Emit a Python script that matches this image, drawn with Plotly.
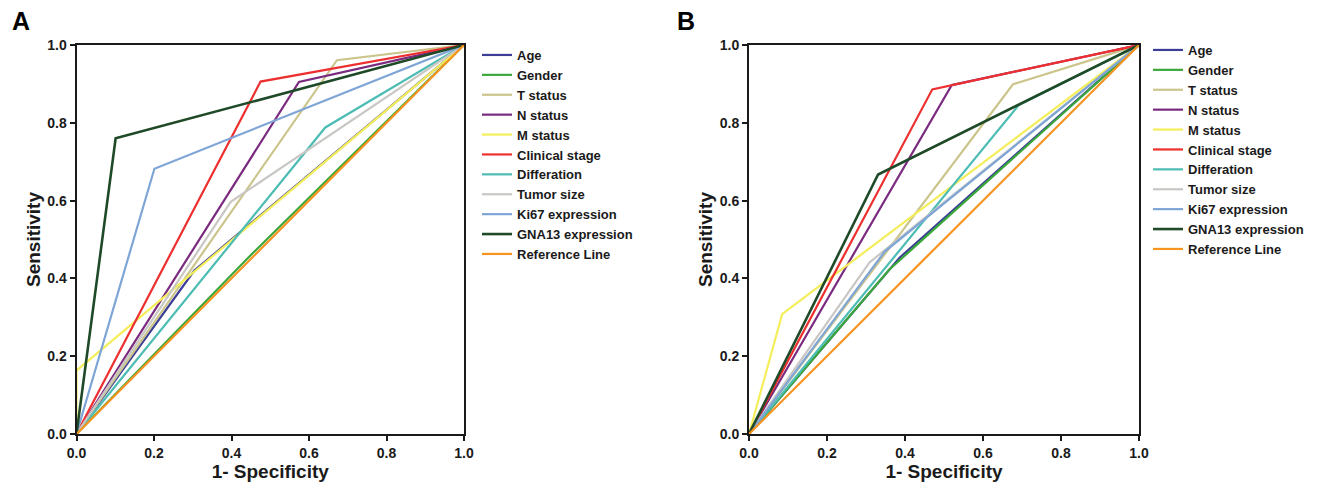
import plotly.graph_objects as go

W, H = 1339, 485

series_names = ["Age", "Gender", "T status", "N status", "M status", "Clinical stage",
                "Differation", "Tumor size", "Ki67 expression", "GNA13 expression", "Reference Line"]
series_colors = ["#3b3d96", "#3aa83a", "#cbc58c", "#7a2b7f", "#f4ee5a", "#ee2f2f",
                 "#4dbdb4", "#c9c7c4", "#7ea5d6", "#1f4a28", "#f7931e"]

# Panel A: 1-specificity (x) and sensitivity (y) per series
panelA_fpr = [[0, 0.304, 1], [0, 0.45, 1], [0, 0.672, 1], [0, 0.574, 1], [0, 0, 1], [0, 0.475, 1],
              [0, 0.642, 1], [0, 0.398, 1], [0, 0.201, 1], [0, 0.101, 1], [0, 1]]
panelA_tpr = [[0, 0.42, 1], [0, 0.46, 1], [0, 0.961, 1], [0, 0.905, 1], [0, 0.163, 1], [0, 0.906, 1],
              [0, 0.788, 1], [0, 0.597, 1], [0, 0.682, 1], [0, 0.76, 1], [0, 1]]

# Panel B
panelB_fpr = [[0, 0.386, 1], [0, 0.36, 1], [0, 0.677, 1], [0, 0.52, 1], [0, 0.085, 1], [0, 0.47, 1],
              [0, 0.692, 1], [0, 0.309, 1], [0, 0.348, 1], [0, 0.331, 1], [0, 1]]
panelB_tpr = [[0, 0.453, 1], [0, 0.423, 1], [0, 0.899, 1], [0, 0.897, 1], [0, 0.308, 1], [0, 0.886, 1],
              [0, 0.846, 1], [0, 0.441, 1], [0, 0.469, 1], [0, 0.667, 1], [0, 1]]

tick_vals = [0, 0.2, 0.4, 0.6, 0.8, 1.0]
tick_text = ["0.0", "0.2", "0.4", "0.6", "0.8", "1.0"]


def px_x(p):
    return p / W


def px_y(p):
    return 1 - p / H


FONT = "Liberation Sans, Arial, sans-serif"
fig = go.Figure()

for i, name in enumerate(series_names):
    fig.add_trace(go.Scatter(x=panelA_fpr[i], y=panelA_tpr[i], mode="lines", name=name,
                             line=dict(color=series_colors[i], width=2.6 if i == 9 else 2.2),
                             xaxis="x", yaxis="y", legend="legend", hoverinfo="skip"))
for i, name in enumerate(series_names):
    fig.add_trace(go.Scatter(x=panelB_fpr[i], y=panelB_tpr[i], mode="lines", name=name,
                             line=dict(color=series_colors[i], width=2.6 if i == 9 else 2.2),
                             xaxis="x2", yaxis="y2", legend="legend2", hoverinfo="skip"))

axis_common = dict(range=[0, 1], tickvals=tick_vals, ticktext=tick_text, showgrid=False, zeroline=False,
                   showline=True, linecolor="#1a1a1a", linewidth=2, mirror=True, automargin=False,
                   ticks="outside", ticklen=5, tickwidth=1.5, tickcolor="#1a1a1a",
                   tickfont=dict(family=FONT, size=14, color="#1a1a1a", weight="bold"))

xt = dict(text="1- Specificity", font=dict(family=FONT, size=19, color="#1a1a1a", weight="bold"), standoff=0)
yt = dict(text="Sensitivity", font=dict(family=FONT, size=19, color="#1a1a1a", weight="bold"), standoff=2)

ydom = [px_y(434), px_y(45)]
fig.update_layout(
    width=W, height=H, margin=dict(l=0, r=0, t=0, b=0, autoexpand=False),
    paper_bgcolor="white", plot_bgcolor="white",
    xaxis=dict(domain=[px_x(76.5), px_x(464)], anchor="y", title=xt, **axis_common),
    yaxis=dict(domain=ydom, anchor="x", title=yt, **axis_common),
    xaxis2=dict(domain=[px_x(749), px_x(1139)], anchor="y2", title=xt, **axis_common),
    yaxis2=dict(domain=ydom, anchor="x2", title=yt, **axis_common),
    legend=dict(x=px_x(477), y=px_y(40), xanchor="left", yanchor="top", bgcolor="rgba(0,0,0,0)",
                font=dict(family=FONT, size=13, color="#1a1a1a", weight="bold"), tracegroupgap=0),
    legend2=dict(x=px_x(1148), y=px_y(35), xanchor="left", yanchor="top", bgcolor="rgba(0,0,0,0)",
                 font=dict(family=FONT, size=13, color="#1a1a1a", weight="bold"), tracegroupgap=0),
    annotations=[
        dict(text="A", x=px_x(21), y=px_y(21), xref="paper", yref="paper", showarrow=False,
             xanchor="center", yanchor="middle",
             font=dict(family=FONT, size=25, color="black", weight="bold")),
        dict(text="B", x=px_x(686), y=px_y(21), xref="paper", yref="paper", showarrow=False,
             xanchor="center", yanchor="middle",
             font=dict(family=FONT, size=25, color="black", weight="bold")),
    ],
)

fig.write_html("out.html")
